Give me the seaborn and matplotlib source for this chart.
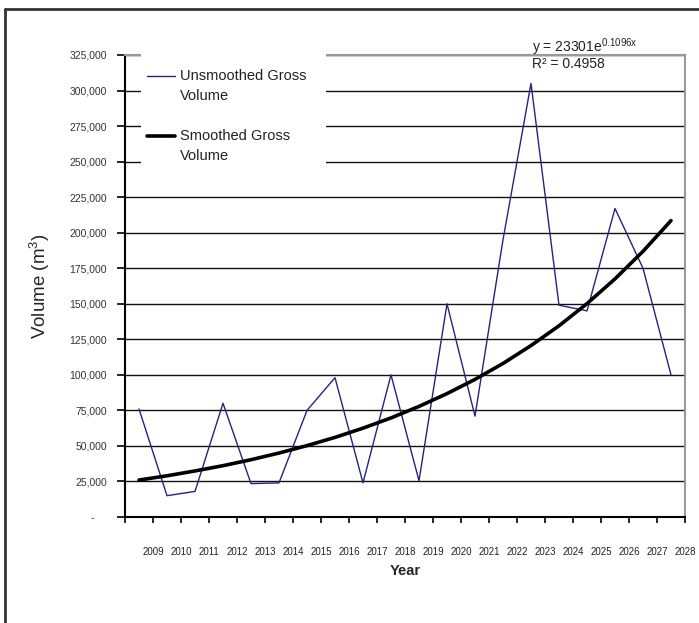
import numpy as np
import pandas as pd
import seaborn as sns
import matplotlib.pyplot as plt
import matplotlib.ticker as ticker
import matplotlib.transforms as mtransforms
from matplotlib.lines import Line2D
from matplotlib.patches import Rectangle
from matplotlib.legend_handler import HandlerLine2D

# -----------------------------
# Data
# -----------------------------
years = [str(y) for y in range(2009, 2029)]
unsmoothed = [76000, 15000, 18000, 80000, 23500, 24000, 75000, 98000, 24000, 100000,
              25500, 150000, 71000, 195000, 305000, 149000, 145000, 217000, 175000, 100000]
smoothed = [26000, 29000, 32400, 36100, 40300, 45000, 50200, 56000, 62500, 69700,
            77800, 86800, 96800, 108000, 120600, 134500, 150100, 167500, 186900, 208500]
y_ticks = list(range(0, 325001, 25000))
equation = r'y = 23301e$^{\mathrm{0.1096x}}$'
r_squared = 'R² = 0.4958'

df = pd.DataFrame({'pos': np.arange(len(years)) + 0.5,
                   'Unsmoothed': unsmoothed,
                   'Smoothed': smoothed})

sns.set_theme(style='white')
plt.rcParams['font.family'] = ['Liberation Sans', 'DejaVu Sans']
plt.rcParams['mathtext.fontset'] = 'custom'
plt.rcParams['mathtext.rm'] = 'Liberation Sans'


class TopAligned(HandlerLine2D):
    # put the legend line next to the first line of a two-line label
    def create_artists(self, legend, orig_handle, xdescent, ydescent, width, height, fontsize, trans):
        arts = super().create_artists(legend, orig_handle, xdescent, ydescent,
                                      width, height, fontsize, trans)
        for a in arts:
            a.set_ydata(np.asarray(a.get_ydata(), float) + 0.7 * fontsize)
        return arts


fig = plt.figure(figsize=(6.99, 6.23), dpi=100)
ax = fig.add_axes([125 / 699, 1 - 517 / 623, 560 / 699, 462 / 623])

sns.lineplot(data=df, x='pos', y='Unsmoothed', color='#24247f', lw=1.0, ax=ax,
             label='Unsmoothed Gross\nVolume')
sns.lineplot(data=df, x='pos', y='Smoothed', color='black', lw=2.6, ax=ax,
             label='Smoothed Gross\nVolume')

ax.set_xlim(0, len(years))
ax.set_ylim(0, 325000)
ax.set_xticks(range(len(years) + 1))
ax.set_xticklabels([''] + years, fontsize=7, color='#222222')
ax.set_yticks(y_ticks)
ax.yaxis.set_major_formatter(ticker.FuncFormatter(lambda v, p: '-' if v == 0 else f'{v:,.0f}'))
ax.tick_params(axis='y', labelsize=7.5, labelcolor='#333333', length=6, width=1.2,
               direction='out', left=True, pad=7, color='black')
ax.tick_params(axis='x', length=4, width=1.2, direction='out', bottom=True, pad=17.8, color='black')

ax.grid(axis='y', color='#111111', lw=1.0)
ax.set_axisbelow(True)
for side in ['left', 'bottom']:
    ax.spines[side].set_color('black')
    ax.spines[side].set_linewidth(1.5)
for side in ['top', 'right']:
    ax.spines[side].set_color('#999999')
    ax.spines[side].set_linewidth(1.5)

ax.set_xlabel('Year', fontsize=10.5, fontweight='bold', labelpad=4.5)
ax.set_ylabel('Volume (m$^{3}$)', fontsize=13.5)
ax.yaxis.set_label_coords(-0.13, 0.5)

# white legend area that hides the gridlines behind it
ax.add_patch(Rectangle((0.0286, 0.719), 0.33, 0.297, transform=ax.transAxes,
                       facecolor='white', edgecolor='none', zorder=4.5, clip_on=False))

leg = ax.legend(loc='upper left', bbox_to_anchor=(0.039, 0.969), borderaxespad=0,
                fontsize=10.5, frameon=False,
                handlelength=1.9, handletextpad=0.35, labelspacing=1.78, borderpad=0,
                handler_map={Line2D: TopAligned()})
for t in leg.get_texts():
    t.set_linespacing(1.52)
    t.set_color('#222222')

ax.text(0.727, 1.017, equation, transform=ax.transAxes, fontsize=10, va='center', ha='left',
        color='#222222')
ax.text(0.727, 0.98, r_squared, transform=ax.transAxes, fontsize=10, va='center', ha='left',
        color='#222222')

# zero label sits a bit further left, like the accounting format
fig.canvas.draw()
zero_lbl = ax.yaxis.get_major_ticks()[0].label1
zero_lbl.set_transform(zero_lbl.get_transform() +
                       mtransforms.ScaledTranslation(-13 / 100, 0, fig.dpi_scale_trans))

# outer chart frame
fig.add_artist(Line2D([5 / 699, 5 / 699], [0, 1 - 9 / 623], transform=fig.transFigure,
                      color='#333333', lw=2))
fig.add_artist(Line2D([5 / 699, 1], [1 - 9 / 623, 1 - 9 / 623], transform=fig.transFigure,
                      color='#333333', lw=2))

plt.savefig('out.png', dpi=100)
